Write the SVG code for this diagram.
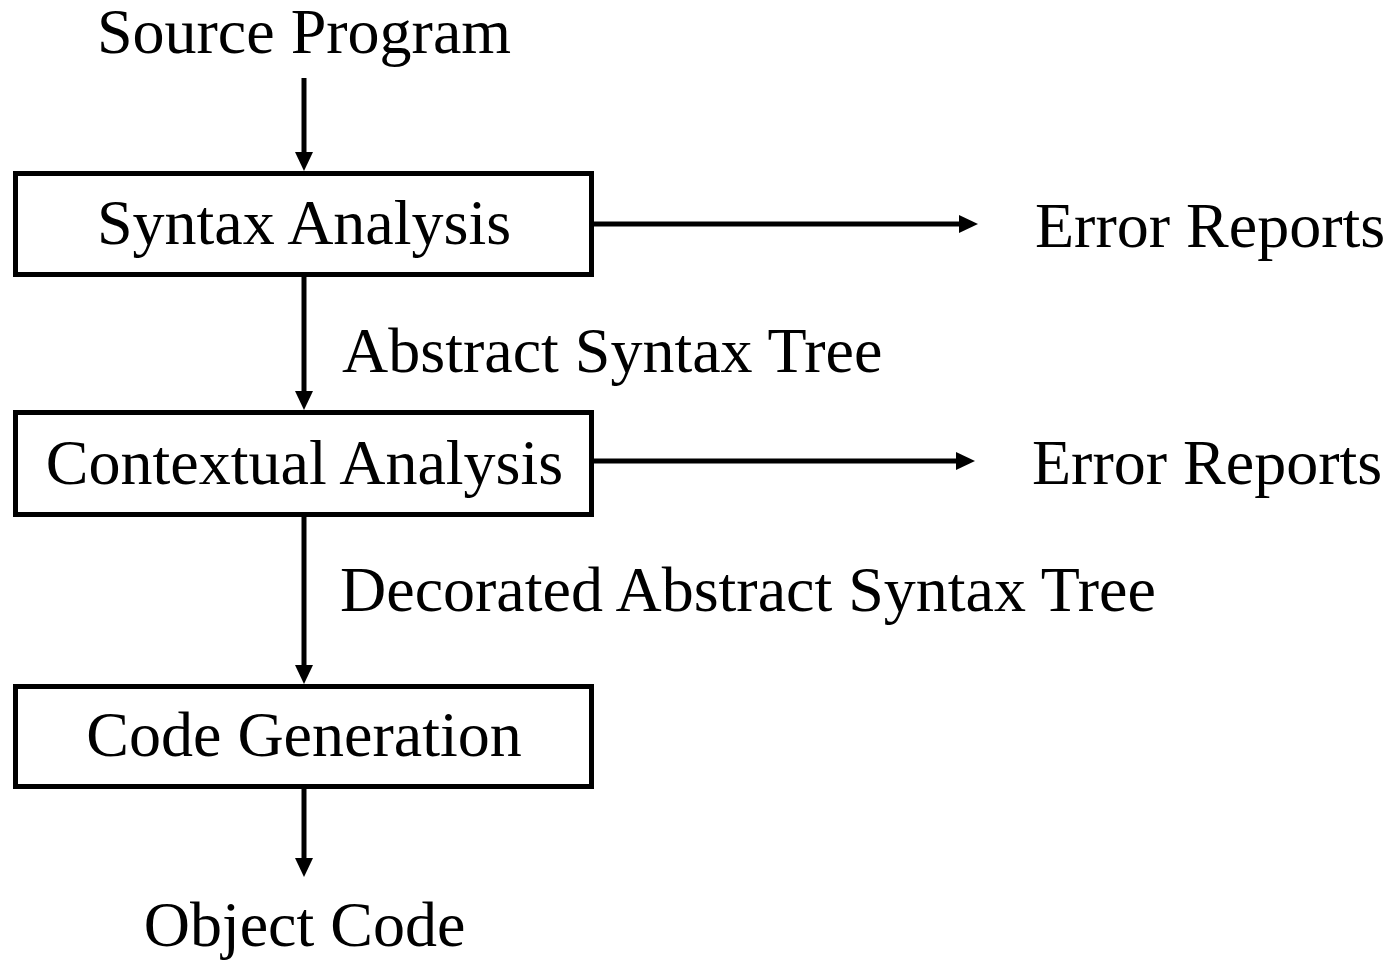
<svg xmlns="http://www.w3.org/2000/svg" width="1390" height="962" viewBox="0 0 1390 962">
<style>
text{font-family:"Liberation Serif","Times New Roman",serif;font-size:64px;fill:#000}
.c{text-anchor:middle}
.box{fill:#fff;stroke:#000;stroke-width:5}
.ln{stroke:#000;stroke-width:5;fill:none;marker-end:url(#ah)}
</style>
<defs>
<marker id="ah" markerUnits="userSpaceOnUse" markerWidth="19" markerHeight="18" refX="1" refY="9" orient="auto" overflow="visible">
<path d="M0,0 L19,9 L0,18 Z" fill="#000"/>
</marker>
</defs>
<rect width="1390" height="962" fill="#fff"/>
<g id="connectors">
<line class="ln" x1="304" y1="78" x2="304" y2="153"/>
<line class="ln" x1="304" y1="277" x2="304" y2="392"/>
<line class="ln" x1="304" y1="517" x2="304" y2="666"/>
<line class="ln" x1="304" y1="789" x2="304" y2="859"/>
<line class="ln" x1="594" y1="224" x2="960" y2="224"/>
<line class="ln" x1="594" y1="461" x2="957" y2="461"/>
<text x="342" y="372">Abstract Syntax Tree</text>
<text x="340" y="611">Decorated Abstract Syntax Tree</text>
</g>
<g id="source"><text class="c" x="304" y="53">Source Program</text></g>
<g id="syntax">
<rect class="box" x="15.5" y="173.5" width="576" height="101"/>
<text class="c" x="304" y="244">Syntax Analysis</text>
</g>
<g id="errors1"><text x="1035" y="247">Error Reports</text></g>
<g id="contextual">
<rect class="box" x="15.5" y="412.5" width="576" height="102"/>
<text class="c" x="304.5" y="484">Contextual Analysis</text>
</g>
<g id="errors2"><text x="1032" y="484">Error Reports</text></g>
<g id="codegen">
<rect class="box" x="15.5" y="686.5" width="576" height="100"/>
<text class="c" x="304" y="756">Code Generation</text>
</g>
<g id="object"><text class="c" x="304.5" y="946">Object Code</text></g>
</svg>
